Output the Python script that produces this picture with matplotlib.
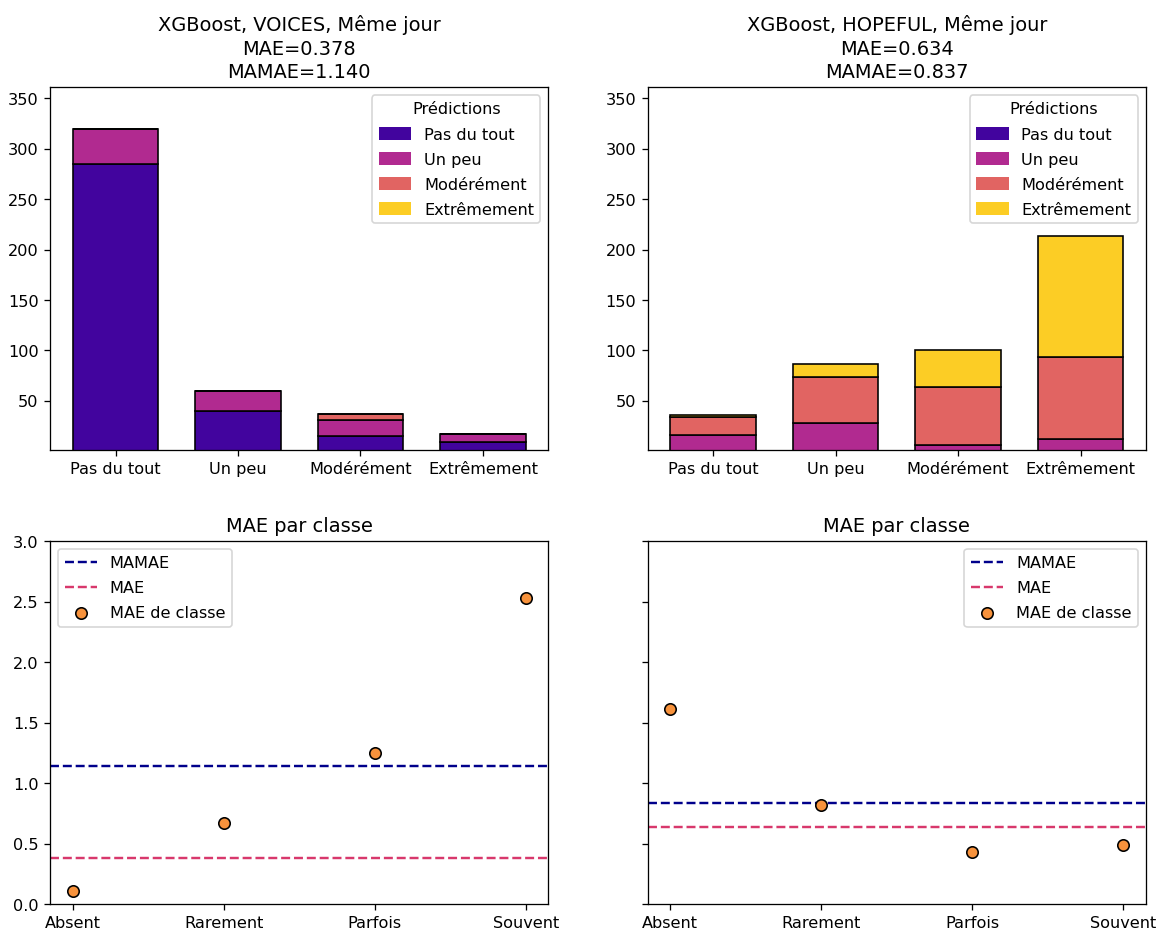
import matplotlib.pyplot as plt
from matplotlib.patches import Patch
import numpy as np

# niveaux de la cible et des predictions
niveaux = ['Pas du tout', 'Un peu', 'Modérément', 'Extrêmement']
classes = ['Absent', 'Rarement', 'Parfois', 'Souvent']
couleurs = ['#42049e', '#b12a90', '#e16462', '#fccd25']

# comptes de predictions par vraie classe (lignes = predictions)
voices_counts = [
    [285, 40, 15, 9],   # Pas du tout
    [35, 20, 16, 8],    # Un peu
    [0, 0, 6, 0],       # Modérément
    [0, 0, 0, 0],       # Extrêmement
]
hopeful_counts = [
    [0, 0, 0, 0],
    [16, 28, 6, 12],
    [18, 46, 58, 81],
    [2, 12, 36, 120],
]

voices_mae = 0.378
voices_mamae = 1.140
hopeful_mae = 0.634
hopeful_mamae = 0.837

voices_mae_classe = [0.11, 0.667, 1.25, 2.53]
hopeful_mae_classe = [1.61, 0.82, 0.43, 0.49]

fig, axes = plt.subplots(2, 2, figsize=(10, 8.02), dpi=116.3)
plt.subplots_adjust(left=0.043, right=0.9854, bottom=0.030, top=0.9057,
                    wspace=0.199, hspace=0.251)

jeux = [('VOICES', voices_counts, voices_mae, voices_mamae, voices_mae_classe),
        ('HOPEFUL', hopeful_counts, hopeful_mae, hopeful_mamae, hopeful_mae_classe)]

x = np.arange(len(niveaux))
for col, (nom, counts, mae, mamae, mae_classe) in enumerate(jeux):
    ax = axes[0, col]
    bas = np.zeros(len(niveaux))
    for i, ligne in enumerate(counts):
        ax.bar(x, ligne, width=0.7, bottom=bas, color=couleurs[i],
               edgecolor='black', linewidth=1)
        bas += np.array(ligne)
    ax.set_xticks(x)
    ax.set_xticklabels(niveaux)
    ax.set_ylim(1, 361)
    ax.set_yticks([50, 100, 150, 200, 250, 300, 350])
    handles = [Patch(facecolor=c, label=n) for c, n in zip(couleurs, niveaux)]
    ax.legend(handles=handles, title='Prédictions', loc='upper right',
              handleheight=0.85, labelspacing=0.62)
    ax.set_title('XGBoost, %s, Même jour\nMAE=%.3f\nMAMAE=%.3f' % (nom, mae, mamae),
                 linespacing=1.3)

    ax2 = axes[1, col]
    ax2.axhline(mamae, color='darkblue', linestyle='--', label='MAMAE')
    ax2.axhline(mae, color='#d8386c', linestyle='--', label='MAE')
    ax2.scatter(x, mae_classe, s=50, color='#f7923c', edgecolor='black',
                zorder=3, label='MAE de classe')
    ax2.set_xticks(x)
    ax2.set_xticklabels(classes)
    ax2.set_ylim(0, 3.0)
    ax2.set_title('MAE par classe')
    ax2.legend(loc='upper left' if col == 0 else 'upper right', labelspacing=0.62)

axes[1, 1].tick_params(labelleft=False)

plt.savefig('out.png')
